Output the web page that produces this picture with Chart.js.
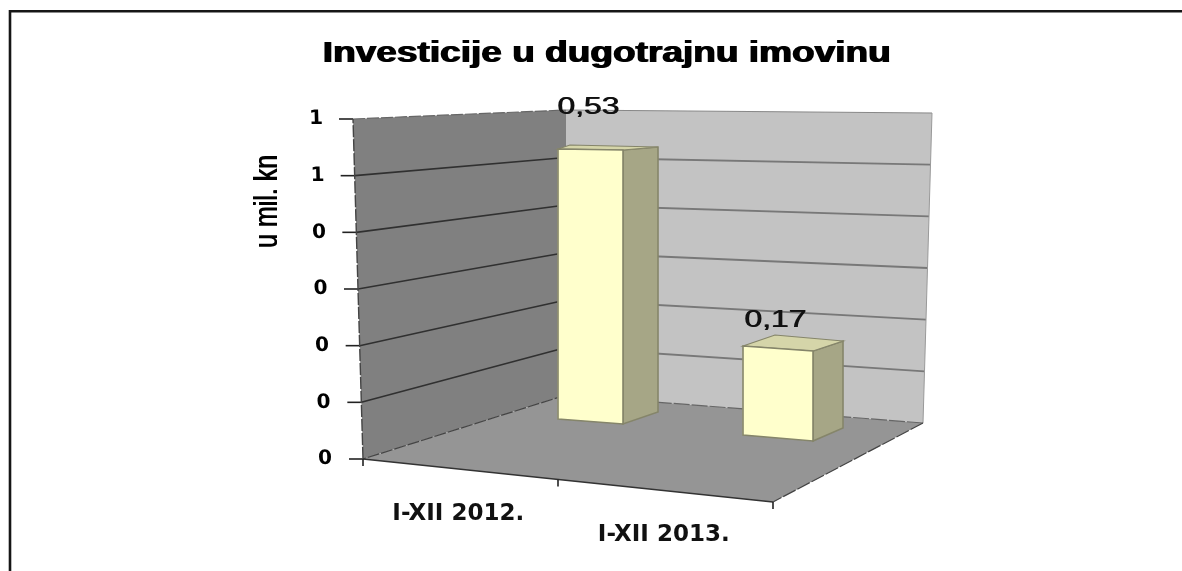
<!DOCTYPE html>
<html><head><meta charset="utf-8">
<style>html,body{margin:0;padding:0;background:#fff}#w{width:1182px;height:571px;position:relative}</style>
<script src="https://cdn.jsdelivr.net/npm/chart.js@4/dist/chart.umd.min.js"></script>
</head><body><div id="w"><canvas id="c" width="1182" height="571"></canvas></div>
<script>
const chartTitle = 'Investicije u dugotrajnu imovinu';
const axisTitle = 'u mil. kn';
const categories = ['I-XII 2012.', 'I-XII 2013.'];
const values = [0.53, 0.17];
const yTickValues = [0, 0.1, 0.2, 0.3, 0.4, 0.5, 0.6];
const yTickLabels = ['0', '0', '0', '0', '0', '1', '1'];

const AREA = {left: 358, top: 119, right: 769, bottom: 459};
const H = AREA.bottom - AREA.top;
const TITLE_FONT = 'bold 30px "Liberation Sans"';
function win(zero, ppu) { return {min: -(AREA.bottom - zero) / ppu, max: (zero - AREA.top) / ppu}; }
const FACE = [
  {tl: -1, tr: 0, bl: 0, br: 5, sx: 35, st: -3, sb: -12, bx: 12, by: -4},
  {tl: -5, tr: 0, bl: 0, br: 6, sx: 30, st: -10, sb: -13, bx: 32, by: -11}
];
function poly(ctx, pts, fill, stroke, lw) {
  ctx.beginPath();
  pts.forEach((p, i) => i ? ctx.lineTo(p[0], p[1]) : ctx.moveTo(p[0], p[1]));
  ctx.closePath();
  if (fill) { ctx.fillStyle = fill; ctx.fill(); }
  if (stroke) { ctx.strokeStyle = stroke; ctx.lineWidth = lw || 1; ctx.stroke(); }
}
function line(ctx, a, b, c, lw, dash) {
  ctx.save();
  if (dash) ctx.setLineDash(dash);
  ctx.beginPath(); ctx.moveTo(a[0], a[1]); ctx.lineTo(b[0], b[1]);
  ctx.strokeStyle = c; ctx.lineWidth = lw; ctx.stroke();
  ctx.restore();
}
const leftPt = t => [363 - 10 * t, 459 - 340 * t];
const midPt = t => [566, 395 - 285 * t];
const rightPt = t => [923 + 9 * t, 423 - 310 * t];

const scene = {
  id: 'scene',
  afterLayout(chart) {
    const tb = chart.titleBlock;
    if (tb && !tb.wrapped) {
      const d = tb.draw;
      tb.draw = function () {
        const c = this.ctx;
        c.save();
        c.font = TITLE_FONT;
        const sx = 568 / c.measureText(chartTitle).width;
        const cx = (this.left + this.right) / 2;
        c.translate(606, 0); c.scale(sx, 1); c.translate(-cx, 0);
        c.shadowColor = '#000'; c.shadowOffsetX = 1.6; c.shadowBlur = 0;
        d.call(this);
        c.restore();
      };
      tb.wrapped = true;
    }
    const ys = chart.scales.y;
    if (!ys.wrapped) {
      const dl = ys.drawLabels;
      ys.drawLabels = function (a) {
        const c = this.ctx, k = 9 / H;
        c.save();
        c.transform(1, 0, k, 1, -k * AREA.bottom, 0);
        dl.call(this, a);
        c.restore();
      };
      ys.wrapped = true;
    }
  },
  beforeDatasetsDraw(chart) {
    const ctx = chart.ctx, y = chart.scales.y;
    ctx.save();
    ctx.strokeStyle = '#161616'; ctx.lineWidth = 2.6;
    ctx.beginPath(); ctx.moveTo(10, 571); ctx.lineTo(10, 11.3); ctx.lineTo(1182, 11.3); ctx.stroke();
    poly(ctx, [leftPt(0), midPt(0), midPt(1), leftPt(1)], '#808080');
    poly(ctx, [midPt(0), rightPt(0), rightPt(1), midPt(1)], '#c3c3c3');
    poly(ctx, [[363, 459], [566, 395], [923, 423], [773, 502]], '#959595');
    yTickValues.forEach(v => {
      const t = (AREA.bottom - y.getPixelForValue(v)) / H;
      if (t > 0) {
        line(ctx, leftPt(t), midPt(t), t === 1 ? '#666' : '#303030', t === 1 ? 1.2 : 1.6, t === 1 ? [12, 2] : null);
        line(ctx, midPt(t), rightPt(t), t === 1 ? '#888' : '#787878', t === 1 ? 1.2 : 1.8);
      }
      const p = leftPt(t);
      line(ctx, [p[0] - 14, p[1]], p, '#222', 1.6);
    });
    line(ctx, leftPt(0), leftPt(1), '#444', 1.4, [12, 2]);
    line(ctx, rightPt(0), rightPt(1), '#999', 1);
    line(ctx, midPt(0), leftPt(0), '#444', 1.2, [12, 2]);
    line(ctx, midPt(0), rightPt(0), '#666', 1.2, [16, 2]);
    line(ctx, rightPt(0), [773, 502], '#444', 1.2, [14, 2]);
    line(ctx, [363, 459], [773, 502], '#333', 1.6);
    [[363, 459], [558, 479.5], [773, 502]].forEach(p => line(ctx, p, [p[0], p[1] + 7], '#222', 1.6));
    ctx.restore();
  },
  afterDatasetsDraw(chart) {
    const ctx = chart.ctx;
    ctx.save();
    values.forEach((v, i) => {
      const el = chart.getDatasetMeta(i).data[0], f = FACE[i];
      const L = el.x - el.width / 2, R = el.x + el.width / 2, T = el.y, B = el.base;
      const e = '#85856a';
      poly(ctx, [[R, T + f.tr], [R + f.sx, T + f.st], [R + f.sx, B + f.sb + f.br], [R, B + f.br]], '#a6a686', e, 1.6);
      poly(ctx, [[L, T + f.tl], [L + f.bx, T + f.tl + f.by], [R + f.sx, T + f.st], [R, T + f.tr]], '#d5d5a9', e, 1.2);
      poly(ctx, [[L, T + f.tl], [R, T + f.tr], [R, B + f.br], [L, B + f.bl]], '#ffffcc', e, 1.6);
      const lx = el.x + (i === 0 ? -2.5 : -3);
      const ly = T + (i === 0 ? -43 : -31);
      ctx.save();
      ctx.fillStyle = '#111';
      ctx.shadowColor = '#111'; ctx.shadowOffsetX = 1; ctx.shadowOffsetY = 0.5; ctx.shadowBlur = 0;
      ctx.font = '24px "Liberation Sans"';
      ctx.textAlign = 'center'; ctx.textBaseline = 'middle';
      ctx.translate(lx, ly); ctx.scale(1.33, 1);
      ctx.fillText(String(v).replace('.', ','), 0, 0);
      ctx.restore();
    });
    ctx.translate(268, 201); ctx.rotate(-Math.PI / 2); ctx.scale(1, 1.35);
    ctx.shadowColor = '#000'; ctx.shadowOffsetY = 0.8; ctx.shadowBlur = 0;
    ctx.fillStyle = '#000'; ctx.font = '25px "Liberation Sans"';
    ctx.textAlign = 'center'; ctx.textBaseline = 'middle';
    ctx.fillText(axisTitle, 0, 0);
    ctx.restore();
  }
};

const y1 = win(419, 269 / values[0]);
const y2 = win(435, 84 / values[1]);
const hidden = o => Object.assign({display: false}, o);

new Chart(document.getElementById('c'), {
  type: 'bar',
  data: {
    labels: categories,
    datasets: [
      {label: categories[0], data: [{x: 1, y: values[0]}], xAxisID: 'xb', yAxisID: 'y1', backgroundColor: '#ffffcc', barThickness: 65, grouped: false, clip: false},
      {label: categories[1], data: [{x: 2, y: values[1]}], xAxisID: 'xb', yAxisID: 'y2', backgroundColor: '#ffffcc', barThickness: 70, grouped: false, clip: false}
    ]
  },
  plugins: [scene],
  options: {
    responsive: false, animation: false, devicePixelRatio: 1,
    layout: {padding: {left: 0, right: 1182 - AREA.right, top: 36, bottom: 0}},
    plugins: {
      legend: {display: false}, tooltip: {enabled: false},
      title: {display: true, text: chartTitle, color: '#000',
        font: {family: '"Liberation Sans"', weight: 'bold', size: 30, lineHeight: 1.2},
        padding: {top: 0, bottom: AREA.top - 36 - 36}}
    },
    scales: {
      x: {type: 'category', position: 'bottom', labels: categories, offset: true,
        grid: {display: false, drawTicks: false}, border: {display: false},
        afterFit: s => { s.height = 571 - AREA.bottom; },
        ticks: {autoSkip: false, maxRotation: 0, minRotation: 0, padding: 44.5, labelOffset: -2.5, color: '#111',
          font: {family: '"DejaVu Sans"', weight: 'bold', size: 23, lineHeight: 0.92},
          callback: (v, i) => i === 1 ? ['', categories[i]] : categories[i]}},
      y: {type: 'linear', position: 'left', min: 0, max: 0.6,
        grid: {display: false, drawTicks: false}, border: {display: false},
        afterFit: s => { s.width = AREA.left; },
        afterBuildTicks: s => { s.ticks = yTickValues.map(v => ({value: v})); },
        ticks: {autoSkip: false, padding: 26, color: '#000',
          font: {family: '"DejaVu Sans"', weight: 'bold', size: 20},
          callback: (v, i) => yTickLabels[i]}},
      xb: hidden({type: 'linear', position: 'bottom', offset: false, min: 1 - (590.5 - AREA.left) / 187.5, max: 1 + (AREA.right - 590.5) / 187.5}),
      y1: hidden(Object.assign({type: 'linear', position: 'left'}, y1)),
      y2: hidden(Object.assign({type: 'linear', position: 'left'}, y2))
    }
  }
});
</script></body></html>
